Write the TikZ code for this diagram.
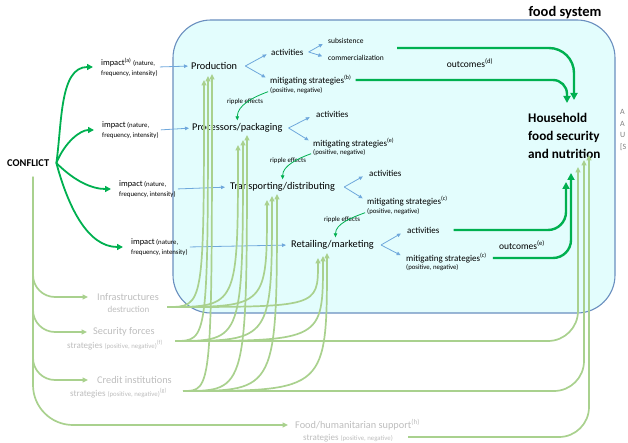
\documentclass[tikz,border=0pt]{standalone}
\usepackage{fontspec}
\setmainfont{Carlito}
\usetikzlibrary{arrows.meta,positioning}

\definecolor{lgreen}{HTML}{A9D18E}
\definecolor{dgreen}{HTML}{00B050}
\definecolor{flowblue}{HTML}{6FA8DC}
\definecolor{boxfill}{HTML}{E3FDFD}
\definecolor{boxline}{HTML}{6A8FBF}
\definecolor{sidegray}{HTML}{BDBDBD}

\newcommand{\fsz}[1]{\fontsize{#1}{#1}\selectfont}

\begin{document}
\begin{tikzpicture}[x=1pt, y=1pt,
    txt/.style={inner sep=0pt, anchor=west},
    stage/.style={txt, font=\fsz{10.3}},
    act/.style={txt, font=\fsz{9}},
    posneg/.style={txt, font=\fsz{6.8}},
    imp/.style={txt, align=left, font=\fontsize{6.8}{10}\selectfont},
    side/.style={txt, text=sidegray, font=\fsz{10.3}},
    sidesub/.style={txt, text=sidegray, font=\fsz{9}},
    ripplelbl/.style={inner sep=0pt, font=\fsz{6.8}},
    flow/.style={draw=flowblue, line width=0.8pt, -{Triangle[length=4pt,width=3.5pt]}},
    ripple/.style={draw=dgreen, line width=0.8pt, -{Triangle[length=4pt,width=3.5pt]}},
    hit/.style={draw=dgreen, line width=1.8pt, -{Triangle[length=6pt,width=6pt]}, shorten >=8pt},
    outc/.style={draw=dgreen, line width=2.4pt, -{Triangle[length=7pt,width=7pt]}},
    feed/.style={draw=lgreen, line width=1.7pt, -{Triangle[length=5.5pt,width=5pt]}}]

    \useasboundingbox (0,0) rectangle (628,-443);
    \draw[boxline, fill=boxfill, line width=1.1pt, rounded corners=38pt] (173,-20) rectangle (615,-313);
    \node[inner sep=0pt, font=\bfseries\fsz{14.5}] (fslbl) at (565,-13) {food system};

    \node[txt, font=\bfseries\fsz{10.4}] (conflict) at (7,-163) {CONFLICT};
    \node[imp] (imp1) at (101,-67) {{\fsz{8.4}impact\textsuperscript{(a)}} (nature,\\frequency, intensity)};
    \node[imp] (imp2) at (102,-130) {{\fsz{8.4}impact} (nature,\\frequency, intensity)};
    \node[imp] (imp3) at (119,-189) {{\fsz{8.4}impact} (nature,\\frequency, intensity)};
    \node[imp] (imp4) at (131,-247) {{\fsz{8.4}impact} (nature,\\frequency, intensity)};

    \node[stage] (prod) at (191,-66) {Production};
    \node[stage] (proc) at (192,-128) {Processors/packaging};
    \node[stage] (trans) at (230,-187) {Transporting/distributing};
    \node[stage] (retail) at (291,-245) {Retailing/marketing};

    \node[act] (pact) at (271,-52) {activities};
    \node[act] (pmit) at (270,-80) {mitigating strategies\textsuperscript{(b)}};
    \node[posneg] (ppn) at (270,-91) {(positive, negative)};
    \node[posneg, font=\fsz{7.5}] (sub) at (328,-41) {subsistence};
    \node[posneg, font=\fsz{7.5}] (com) at (328,-58) {commercialization};
    \node[act] (qact) at (316,-114) {activities};
    \node[act] (qmit) at (313,-143) {mitigating strategies\textsuperscript{(e)}};
    \node[posneg] (qpn) at (313,-153) {(positive, negative)};
    \node[act] (tact) at (369,-173) {activities};
    \node[act] (tmit) at (367,-201) {mitigating strategies\textsuperscript{(c)}};
    \node[posneg] (tpn) at (367,-212) {(positive, negative)};
    \node[act] (ract) at (407,-230) {activities};
    \node[act] (rmit) at (406,-258) {mitigating strategies\textsuperscript{(c)}};
    \node[posneg] (rpn) at (406,-268) {(positive, negative)};

    \node[ripplelbl] (rip1) at (245,-102) {ripple effects};
    \node[ripplelbl] (rip2) at (288,-161) {ripple effects};
    \node[ripplelbl] (rip3) at (342,-220) {ripple effects};
    \node[inner sep=0pt, font=\fsz{9.5}] (outd) at (470,-63) {outcomes\textsuperscript{(d)}};
    \node[inner sep=0pt, font=\fsz{9.5}] (oute) at (522,-245) {outcomes\textsuperscript{(e)}};

    \node[txt, align=left, font=\bfseries\fontsize{13.2}{18}\selectfont] (hh) at (528,-136) {Household\\food security\\and nutrition};
    \node[txt, align=left, text=gray, font=\fontsize{8}{11.8}\selectfont] (dims) at (620,-130) {A\\A\\U\\{[}S};

    \node[side] (infra) at (97,-297) {Infrastructures};
    \node[sidesub, anchor=center] (infrad) at (128.5,-309) {destruction};
    \node[side] (sec) at (93,-332) {Security forces};
    \node[sidesub] (secs) at (67,-345) {strategies {\fsz{6.8}(positive, negative)}\textsuperscript{(f)}};
    \node[side] (cred) at (97,-380) {Credit institutions};
    \node[sidesub] (creds) at (70,-393) {strategies {\fsz{6.8}(positive, negative)}\textsuperscript{(g)}};
    \node[side] (food) at (295,-425) {Food/humanitarian support\textsuperscript{(h)}};
    \node[sidesub] (foods) at (303,-438) {strategies {\fsz{6.8}(positive, negative)}};

    \coordinate (hub) at ([xshift=7pt]conflict.east);
    \coordinate (trunk) at (33,-177);
    \coordinate (infraO) at (167,-307);
    \coordinate (secO) at (175,-341);
    \coordinate (credO) at (183,-391);
    \coordinate (foodO) at (408,-437);
    \coordinate (pout) at (397,-48);
    \foreach \n/\x/\y in {prodA/204/80, prodB/208/76, prodC/212/74, procA/238/145, procB/243/140, procC/247/135,
        transA/267/200, transB/272/196, transC/277/194, retA/318/258, retB/323/256, retC/327/253,
        hhA/567/103, hhB/574/100, hhC/566/182, hhD/571/173, hhE/578/167, hhF/584/160, hhG/589/155}
        \coordinate (\n) at (\x,-\y);

    \draw[hit] (hub) to[out=82,in=180] (imp1.west);
    \draw[hit] (hub) to[out=68,in=180] (imp2.west);
    \draw[hit] (hub) to[out=-45,in=180] (imp3.west);
    \draw[hit] (hub) to[out=-75,in=180] (imp4.west);

    \draw[feed, rounded corners=22pt, shorten >=9pt] (trunk) |- (infra.west);
    \draw[feed, rounded corners=22pt, shorten >=6pt] (trunk) |- (sec.west);
    \draw[feed, rounded corners=22pt, shorten >=9pt] (trunk) |- (cred.west);
    \draw[feed, rounded corners=40pt, shorten >=7pt] (trunk) |- (food.west);

    \draw[flow, shorten <=2pt, shorten >=3pt] (imp1.east) -- (prod.west);
    \draw[flow, shorten <=2pt, shorten >=3pt] (imp2.east) -- (proc.west);
    \draw[flow, shorten <=2pt, shorten >=5pt] (imp3.east) -- (trans.west);
    \draw[flow, shorten <=2pt, shorten >=5pt] (imp4.east) -- (retail.west);

    \draw[flow, shorten >=5pt] ([xshift=8pt]prod.east) -- (pact.west);
    \draw[flow, shorten >=5pt] ([xshift=8pt]prod.east) -- (pmit.west);
    \draw[flow, shorten >=6pt] ([xshift=5pt]pact.east) -- (sub.west);
    \draw[flow, shorten >=6pt] ([xshift=5pt]pact.east) -- (com.west);
    \draw[flow, shorten >=7pt] ([xshift=6pt]proc.east) -- (qact.west);
    \draw[flow, shorten >=5pt] ([xshift=6pt]proc.east) -- (qmit.west);
    \draw[flow, shorten >=7pt] ([xshift=9pt]trans.east) -- (tact.west);
    \draw[flow, shorten >=5pt] ([xshift=9pt]trans.east) -- (tmit.west);
    \draw[flow, shorten >=7pt] ([xshift=7pt]retail.east) -- (ract.west);
    \draw[flow, shorten >=6pt] ([xshift=7pt]retail.east) -- (rmit.west);

    \draw[ripple, shorten <=2pt, shorten >=3pt] (ppn.west) to[out=200,in=90] (proc.north);
    \draw[ripple, shorten <=2pt, shorten >=3pt] (qpn.west) to[out=200,in=90] (trans.north);
    \draw[ripple, shorten <=2pt, shorten >=3pt] (tpn.west) to[out=200,in=90] ([xshift=3pt]retail.north);

    \foreach \s/\t in {infraO/prodA, secO/prodB, credO/prodC, infraO/procA, secO/procB, credO/procC,
        infraO/transA, secO/transB, credO/transC, infraO/retA, secO/retB, credO/retC}
        \draw[feed] (\s) .. controls (\t|-\s) .. (\t);
    \draw[feed, rounded corners=30pt] (secO) -| (hhE);
    \draw[feed, rounded corners=30pt] (credO) -| (hhF);
    \draw[feed, rounded corners=30pt] (foodO) -| (hhG);

    \draw[outc, rounded corners=25pt] (pout) -| (hhB);
    \draw[outc, rounded corners=14pt] ([xshift=4pt]pmit.east) -| (hhA);
    \draw[outc, rounded corners=18pt] ([xshift=14pt]ract.east) -| (hhC);
    \draw[outc, rounded corners=18pt] ([xshift=6pt]rmit.east) -| (hhD);

\end{tikzpicture}
\end{document}
